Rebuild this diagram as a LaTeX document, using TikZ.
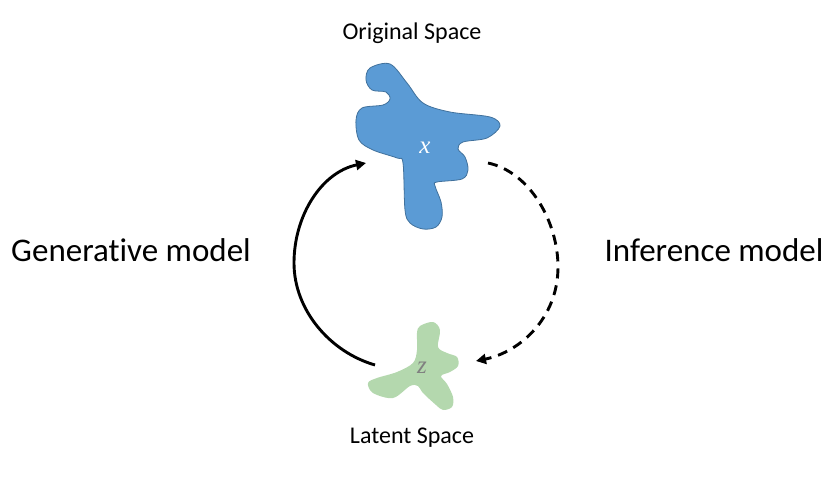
\documentclass[tikz,border=0pt]{standalone}
\usepackage{fontspec}
\setmainfont{Carlito}[Ligatures={NoCommon}]
\newfontfamily\varfont{Liberation Serif}
\usetikzlibrary{arrows.meta}
\definecolor{blobblue}{RGB}{91,155,213}
\definecolor{blobblueedge}{RGB}{65,113,156}
\definecolor{blobgreen}{RGB}{180,216,174}
\tikzset{
  lbl/.style={inner sep=0pt, font=\fontsize{24}{28}\selectfont},
  biglbl/.style={inner sep=0pt, font=\fontsize{33}{38}\selectfont},
  varlbl/.style={inner sep=0pt, font=\varfont\itshape\fontsize{25}{25}\selectfont},
  conn/.style={line width=2.9pt, -{Triangle[length=10pt,width=10pt]}},
}
\begin{document}
\begin{tikzpicture}[x=1pt,y=-1pt]
\useasboundingbox (0,0) rectangle (833,481);
% blue blob
\draw[fill=blobblue, draw=blobblueedge, line width=0.8pt] plot[smooth cycle, tension=0.55] coordinates {
 (370,68) (390,64) (407,83) (423,103) (450,112) (490,117) (500,126) (487,138)
 (463,142) (458,149) (465,157) (468,170) (462,179) (437,182) (435,186) (441,202)
 (442,217) (436,227) (423,229) (410,223) (405,210) (403,163) (397,158) (373,150)
 (359,140) (356,120) (362,108) (383,105) (390,99) (386,92) (372,90) (366,80)};
\node[varlbl, text=white] (x) at (425,148) {x};
% green blob
\fill[blobgreen] plot[smooth cycle, tension=0.55] coordinates {
 (420,326) (433,322) (440,330) (438,347) (447,353) (457,357) (458,366) (450,372)
 (441,376) (447,384) (453,397) (452,407) (443,410) (436,405) (423,393) (418,386)
 (410,386) (393,398) (373,393) (368,383) (377,378) (397,372) (413,363) (417,350)
 (417,333)};
\node[varlbl, text=gray] (z) at (422,368) {z};
% labels
\node[lbl] (orig) at (412,33) {Original Space};
\node[lbl] (lat) at (412,438) {Latent Space};
\node[biglbl] (gen) at (131,250) {Generative model};
\node[biglbl] (inf) at (714,250) {Inference model};
% connector endpoints
\coordinate (gs) at (375,365);
\coordinate (gm) at (294,263);
\coordinate (ge) at (366,163);
\coordinate (is) at (488,163);
\coordinate (im) at (558,267);
\coordinate (ie) at (476,361);
\draw[conn] (gs) .. controls (330,352) and (294,310) .. (gm)
  .. controls (294,215) and (322,172) .. (ge);
\draw[conn, dash pattern=on 10pt off 7pt] (is) .. controls (530,172) and (558,222) .. (im)
  .. controls (558,318) and (520,352) .. (ie);
\end{tikzpicture}
\end{document}
